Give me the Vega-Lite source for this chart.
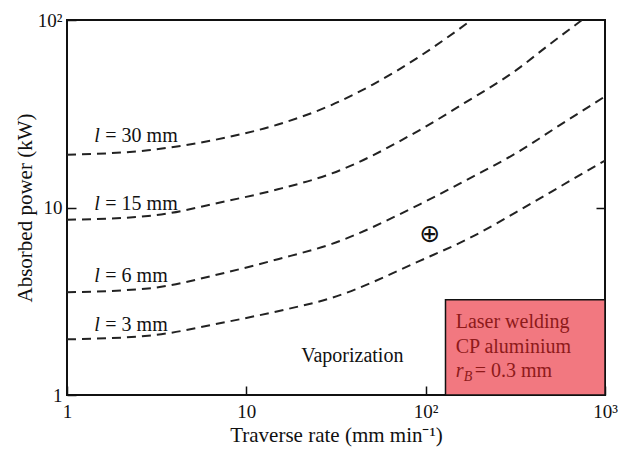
{
  "$schema": "https://vega.github.io/schema/vega-lite/v6.json",
  "width": 538,
  "height": 375,
  "autosize": "none",
  "padding": {"left": 67, "top": 20, "right": 13, "bottom": 55},
  "background": "white",
  "config": {
    "view": {"stroke": "#111", "strokeWidth": 2},
    "font": "Liberation Serif",
    "axis": {
      "grid": false,
      "domain": false,
      "tickSize": -9,
      "tickWidth": 1.5,
      "tickColor": "#111",
      "labelFontSize": 19,
      "labelColor": "#111",
      "labelFlush": false,
      "labelOverlap": false,
      "titleFontSize": 21,
      "titleFontWeight": "normal",
      "titleColor": "#111"
    }
  },
  "datasets": {
    "curves": [
      {"l": "30", "v": 1, "p": 19.1}, {"l": "30", "v": 2.83, "p": 20.2}, {"l": "30", "v": 7.69, "p": 23.6}, {"l": "30", "v": 15, "p": 27.7}, {"l": "30", "v": 30, "p": 35.3}, {"l": "30", "v": 51, "p": 45.4}, {"l": "30", "v": 92.7, "p": 64}, {"l": "30", "v": 130, "p": 79.8}, {"l": "30", "v": 180, "p": 100},
      {"l": "15", "v": 1, "p": 8.6}, {"l": "15", "v": 2.83, "p": 9.0}, {"l": "15", "v": 7.69, "p": 10.8}, {"l": "15", "v": 15, "p": 12.5}, {"l": "15", "v": 30, "p": 15.2}, {"l": "15", "v": 92.7, "p": 25.9}, {"l": "15", "v": 164, "p": 36}, {"l": "15", "v": 320, "p": 54}, {"l": "15", "v": 479, "p": 72.8}, {"l": "15", "v": 745, "p": 100},
      {"l": "6", "v": 1, "p": 3.53}, {"l": "6", "v": 2.83, "p": 3.7}, {"l": "6", "v": 7.69, "p": 4.5}, {"l": "6", "v": 15, "p": 5.3}, {"l": "6", "v": 30, "p": 6.4}, {"l": "6", "v": 92.7, "p": 10.4}, {"l": "6", "v": 188, "p": 14.8}, {"l": "6", "v": 320, "p": 19.5}, {"l": "6", "v": 560, "p": 27.5}, {"l": "6", "v": 1000, "p": 39.1},
      {"l": "3", "v": 1, "p": 1.98}, {"l": "3", "v": 2.83, "p": 2.07}, {"l": "3", "v": 7.69, "p": 2.45}, {"l": "3", "v": 15, "p": 2.8}, {"l": "3", "v": 30, "p": 3.3}, {"l": "3", "v": 92.7, "p": 5.19}, {"l": "3", "v": 188, "p": 7.1}, {"l": "3", "v": 320, "p": 9.45}, {"l": "3", "v": 560, "p": 12.9}, {"l": "3", "v": 1000, "p": 17.8}
    ],
    "labels": [
      {"t": "= 30 mm", "v": 1.42, "p": 24.2},
      {"t": "= 15 mm", "v": 1.42, "p": 10.5},
      {"t": "= 6 mm", "v": 1.42, "p": 4.33},
      {"t": "= 3 mm", "v": 1.42, "p": 2.37}
    ],
    "box": [{"v": 129, "v2": 1000, "p": 1, "p2": 3.22}],
    "boxtext": [
      {"t": "Laser welding", "v": 147, "p": 2.45},
      {"t": "CP aluminium", "v": 147, "p": 1.8}
    ],
    "rb": [{"t": "= 0.3 mm", "v": 147, "p": 1.34}],
    "vap": [{"t": "Vaporization", "v": 39, "p": 1.61}],
    "mark": [{"t": "⊕", "v": 105.5, "p": 7.25}]
  },
  "resolve": {"axis": {"y": "independent", "x": "independent"}},
  "layer": [
    {
      "data": {"name": "box"},
      "mark": {"type": "rect", "fill": "#f27880", "stroke": "#111", "strokeWidth": 1.5},
      "encoding": {
        "x": {"field": "v", "type": "quantitative", "scale": {"type": "log", "domain": [1, 1000]},
          "axis": {"values": [1, 10, 100, 1000], "labelExpr": "datum.value == 1 ? '1' : datum.value == 10 ? '10' : datum.value == 100 ? '10²' : '10³'", "labelPadding": 16, "title": "Traverse rate (mm min⁻¹)", "titleY": 40, "titleBaseline": "middle"}},
        "x2": {"field": "v2"},
        "y": {"field": "p", "type": "quantitative", "scale": {"type": "log", "domain": [1, 100]},
          "axis": {"values": [1, 10, 100], "labelExpr": "datum.value == 1 ? '1' : datum.value == 10 ? '10' : '10²'", "labelPadding": 14, "title": "Absorbed  power (kW)", "titleX": -42, "titleBaseline": "middle"}},
        "y2": {"field": "p2"}
      }
    },
    {
      "data": {"name": "curves"},
      "mark": {"type": "line", "strokeDash": [9, 6], "strokeWidth": 2, "color": "#222", "interpolate": "monotone", "clip": true},
      "encoding": {
        "x": {"field": "v", "type": "quantitative", "scale": {"type": "log", "domain": [1, 1000]}, "axis": null},
        "y": {"field": "p", "type": "quantitative", "scale": {"type": "log", "domain": [1, 100]},
          "axis": {"orient": "right", "values": [10], "labels": false, "title": null}},
        "detail": {"field": "l"}
      }
    },
    {
      "data": {"name": "labels"},
      "mark": {"type": "text", "align": "left", "baseline": "middle", "fontSize": 20, "fontStyle": "italic", "color": "#111", "text": "l"},
      "encoding": {
        "x": {"field": "v", "type": "quantitative", "axis": null},
        "y": {"field": "p", "type": "quantitative", "axis": null}
      }
    },
    {
      "data": {"name": "labels"},
      "mark": {"type": "text", "align": "left", "baseline": "middle", "fontSize": 20, "color": "#111", "dx": 11},
      "encoding": {
        "x": {"field": "v", "type": "quantitative", "axis": null},
        "y": {"field": "p", "type": "quantitative", "axis": null},
        "text": {"field": "t"}
      }
    },
    {
      "data": {"name": "vap"},
      "mark": {"type": "text", "align": "center", "baseline": "middle", "fontSize": 20, "color": "#111"},
      "encoding": {
        "x": {"field": "v", "type": "quantitative", "axis": null},
        "y": {"field": "p", "type": "quantitative", "axis": null},
        "text": {"field": "t"}
      }
    },
    {
      "data": {"name": "mark"},
      "mark": {"type": "text", "align": "center", "baseline": "middle", "fontSize": 25, "font": "DejaVu Sans", "color": "#111"},
      "encoding": {
        "x": {"field": "v", "type": "quantitative", "axis": null},
        "y": {"field": "p", "type": "quantitative", "axis": null},
        "text": {"field": "t"}
      }
    },
    {
      "data": {"name": "boxtext"},
      "mark": {"type": "text", "align": "left", "baseline": "middle", "fontSize": 20, "color": "#8e1a1a"},
      "encoding": {
        "x": {"field": "v", "type": "quantitative", "axis": null},
        "y": {"field": "p", "type": "quantitative", "axis": null},
        "text": {"field": "t"}
      }
    },
    {
      "data": {"name": "rb"},
      "mark": {"type": "text", "align": "left", "baseline": "middle", "fontSize": 20, "fontStyle": "italic", "color": "#8e1a1a", "text": "r"},
      "encoding": {
        "x": {"field": "v", "type": "quantitative", "axis": null},
        "y": {"field": "p", "type": "quantitative", "axis": null}
      }
    },
    {
      "data": {"name": "rb"},
      "mark": {"type": "text", "align": "left", "baseline": "middle", "fontSize": 14, "fontStyle": "italic", "color": "#8e1a1a", "text": "B", "dx": 8, "dy": 6},
      "encoding": {
        "x": {"field": "v", "type": "quantitative", "axis": null},
        "y": {"field": "p", "type": "quantitative", "axis": null}
      }
    },
    {
      "data": {"name": "rb"},
      "mark": {"type": "text", "align": "left", "baseline": "middle", "fontSize": 20, "color": "#8e1a1a", "dx": 19},
      "encoding": {
        "x": {"field": "v", "type": "quantitative", "axis": null},
        "y": {"field": "p", "type": "quantitative", "axis": null},
        "text": {"field": "t"}
      }
    }
  ]
}
